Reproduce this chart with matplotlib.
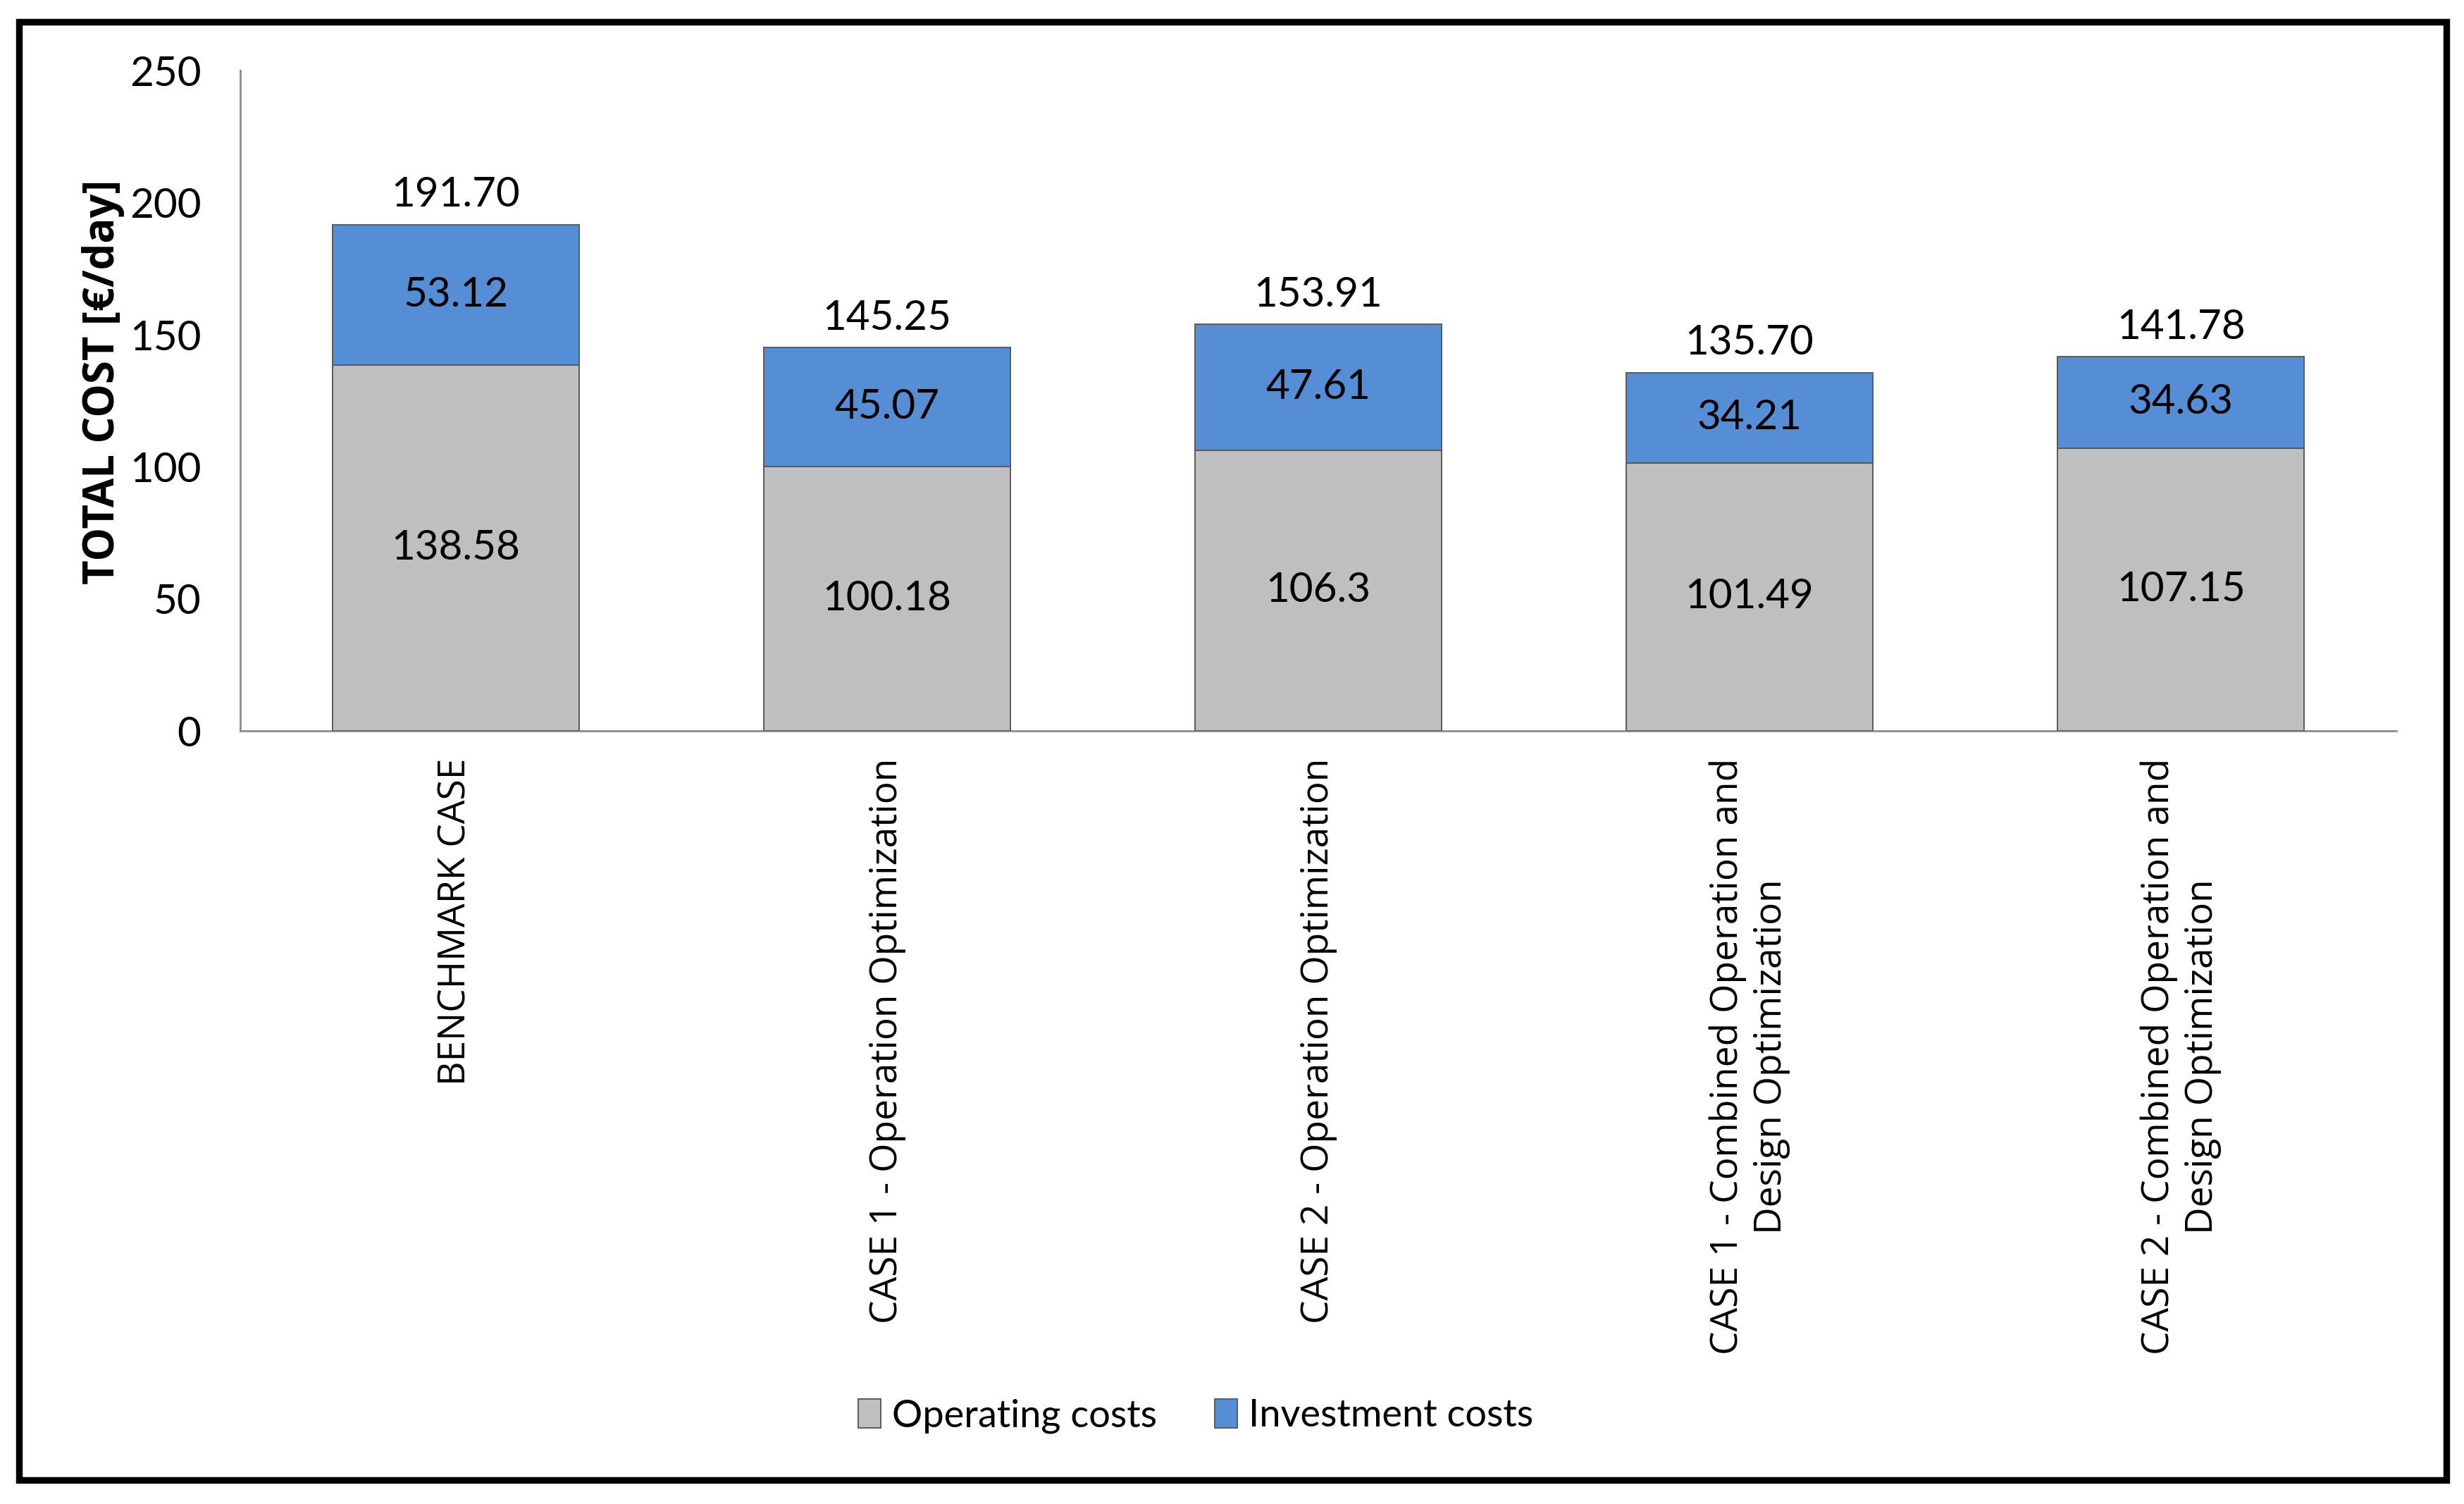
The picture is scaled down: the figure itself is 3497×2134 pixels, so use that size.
import matplotlib
matplotlib.use("Agg")
import matplotlib.pyplot as plt
from matplotlib import font_manager
from matplotlib.patches import Rectangle, Patch

categories = [
    "BENCHMARK CASE",
    "CASE 1 - Operation Optimization",
    "CASE 2 - Operation Optimization",
    "CASE 1 - Combined Operation and\nDesign Optimization",
    "CASE 2 - Combined Operation and\nDesign Optimization",
]
operating = [138.58, 100.18, 106.3, 101.49, 107.15]
investment = [53.12, 45.07, 47.61, 34.21, 34.63]
yticks = [0, 50, 100, 150, 200, 250]

names = {f.name for f in font_manager.fontManager.ttflist}
num_font = "Liberation Sans Narrow" if "Liberation Sans Narrow" in names else "Lato"
cat_font = "Open Sans"
nsize = 21

fig = plt.figure(figsize=(17.485, 10.67), dpi=200)
ax = fig.add_axes([0.0975, 0.514, 0.8751, 0.439])

x = list(range(len(categories)))
w = 0.572
grey = "#BFBFBF"
blue = "#558ED5"
edge = "#5A5A5A"
b1 = ax.bar(x, operating, w, color=grey, edgecolor=edge, linewidth=0.7, label="Operating costs", zorder=3)
b2 = ax.bar(x, investment, w, bottom=operating, color=blue, edgecolor=edge, linewidth=0.7, label="Investment costs", zorder=3)

ax.bar_label(b1, labels=[str(v) for v in operating], label_type="center",
             fontsize=nsize, fontfamily=num_font)
ax.bar_label(b2, labels=[str(v) for v in investment], label_type="center",
             fontsize=nsize, fontfamily=num_font)
totals = [o + i for o, i in zip(operating, investment)]
ax.bar_label(b2, labels=[f"{t:.2f}" for t in totals], label_type="edge", padding=5.5,
             fontsize=nsize, fontfamily=num_font)

ax.set_xlim(-0.5, len(categories) - 0.5)
ax.set_ylim(0, 250)
ax.set_yticks(yticks)
ax.set_yticklabels([str(t) for t in yticks], fontsize=nsize, fontfamily=num_font)
ax.set_xticks(x)
ax.set_xticklabels(categories, rotation=90, fontsize=19.2, fontfamily=cat_font,
                   ha="center", va="top", multialignment="center")
ax.tick_params(axis="both", length=0)
ax.tick_params(axis="y", pad=20)
ax.tick_params(axis="x", pad=14)

for s in ["top", "right"]:
    ax.spines[s].set_visible(False)
for s in ["left", "bottom"]:
    ax.spines[s].set_color("#8C8C8C")
    ax.spines[s].set_linewidth(1.0)

ax.set_ylabel("TOTAL COST [€/day]", fontsize=21.5, fontweight="bold", fontfamily=cat_font)
ax.yaxis.set_label_coords(-0.0536, 0.529)

handles = [Patch(facecolor=grey, edgecolor=edge, linewidth=0.7),
           Patch(facecolor=blue, edgecolor=edge, linewidth=0.7)]
fig.legend(handles, ["Operating costs", "Investment costs"], loc="center",
           bbox_to_anchor=(0.4853, 0.0585), ncol=2, frameon=False,
           prop={"family": num_font, "size": 19.5},
           handlelength=0.6, handleheight=0.8, handletextpad=0.3, columnspacing=1.5)

fig.patches.append(Rectangle((0.0077, 0.016), 0.9851, 0.9695, transform=fig.transFigure,
                             fill=False, edgecolor="black", linewidth=3.4, zorder=10))

fig.savefig("out.png", dpi=200, facecolor="white")
